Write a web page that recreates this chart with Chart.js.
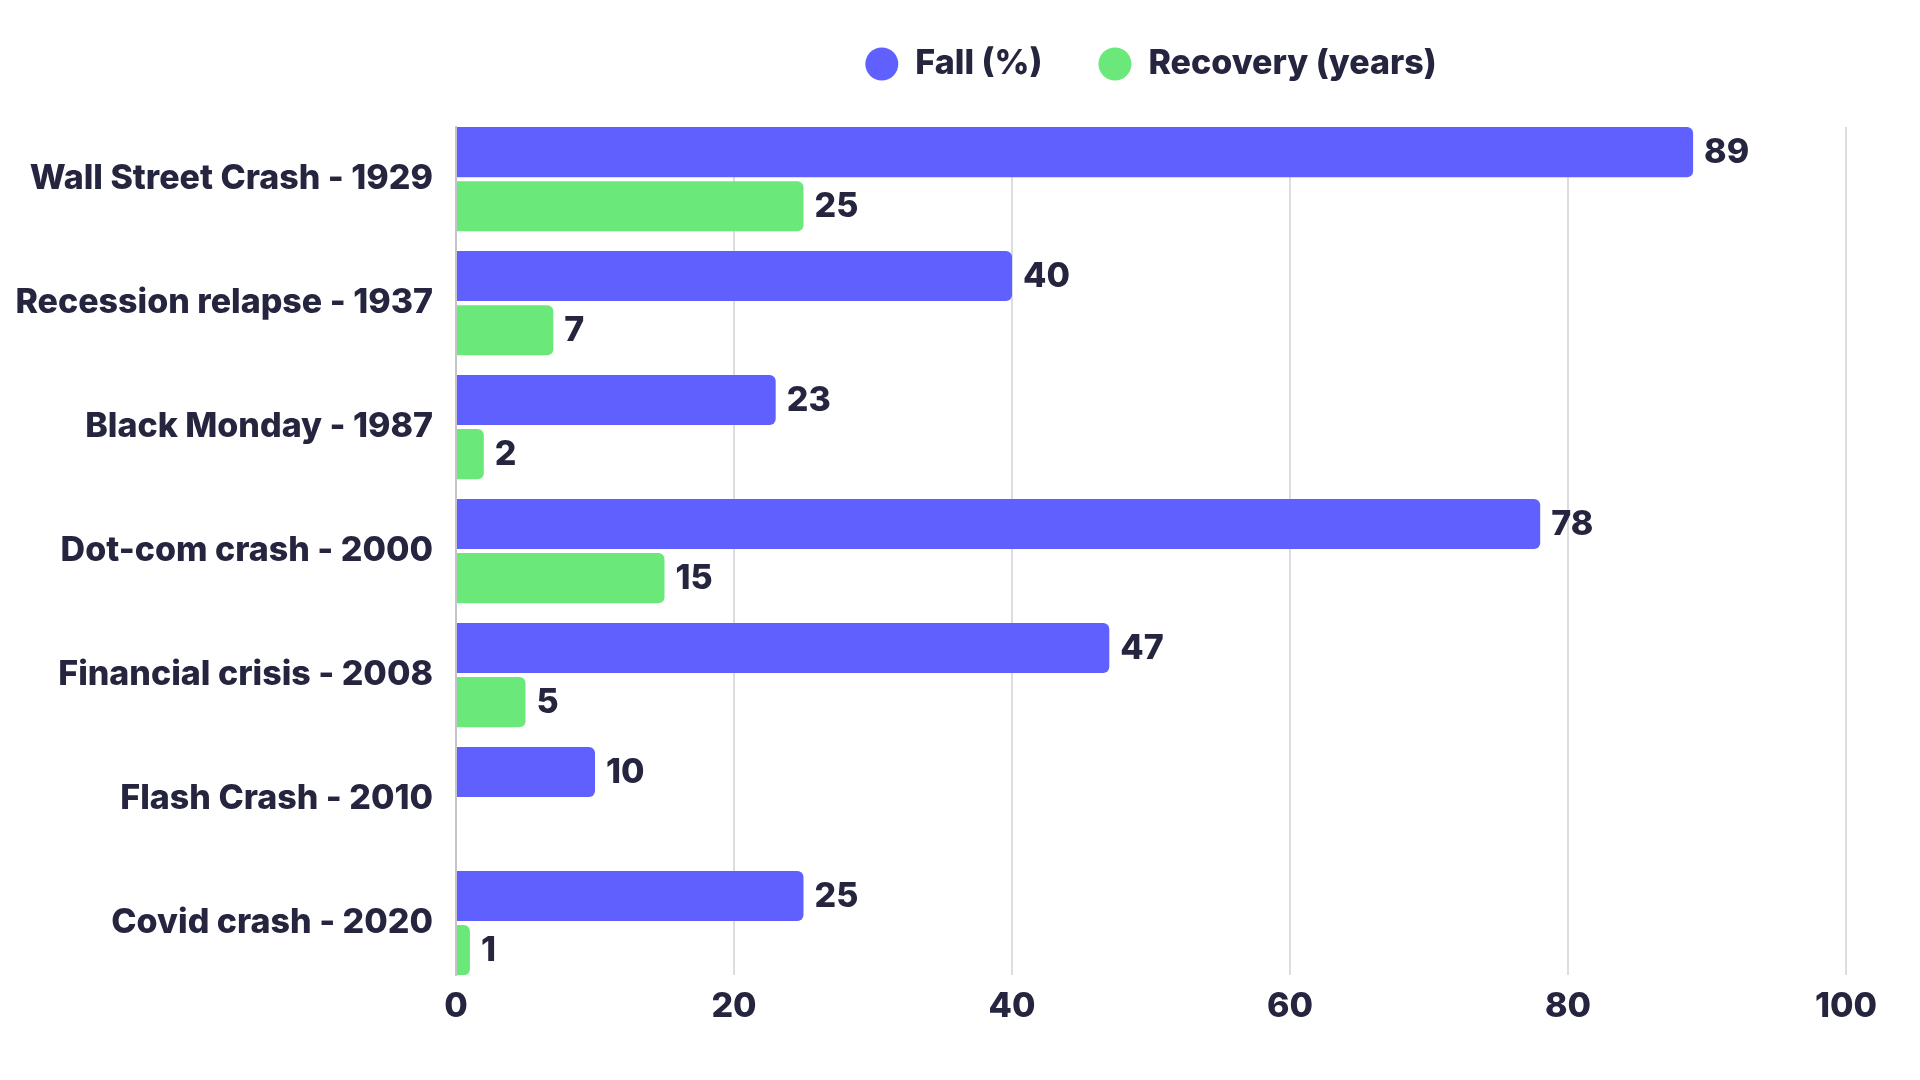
<!DOCTYPE html>
<html>
<head>
<meta charset="utf-8">
<script src="https://cdn.jsdelivr.net/npm/chart.js@4"></script>
<style>
  html, body { margin: 0; padding: 0; background: #fff; }
  #wrap { width: 1920px; height: 1080px; }
</style>
</head>
<body>
<div id="wrap"><canvas id="myChart"></canvas></div>
<script>
var categories = ["Wall Street Crash - 1929", "Recession relapse - 1937", "Black Monday - 1987",
    "Dot-com crash - 2000", "Financial crisis - 2008", "Flash Crash - 2010", "Covid crash - 2020"];
var fall = [89, 40, 23, 78, 47, 10, 25];          // Fall (%)
var recovery = [25, 7, 2, 15, 5, null, 1];        // Recovery (years)
var xTicks = [0, 20, 40, 60, 80, 100];

var textColor = "#25253f";
var fontFamily = "Inter, 'Noto Sans', sans-serif";
var fontSize = 34;
var fontWeight = "800";

// value labels at the end of each bar
var valueLabels = {
    id: "valueLabels",
    afterDatasetsDraw: function(chart) {
        var ctx = chart.ctx;
        ctx.save();
        ctx.font = fontWeight + " " + fontSize + "px " + fontFamily;
        ctx.fillStyle = textColor;
        ctx.textAlign = "left";
        ctx.textBaseline = "middle";
        chart.data.datasets.forEach(function(ds, i) {
            chart.getDatasetMeta(i).data.forEach(function(bar, j) {
                var v = ds.data[j].x;
                if (v === null || v === undefined) return;
                ctx.fillText(v, bar.x + 11, bar.y + 1);
            });
        });
        ctx.restore();
    }
};

// extra room between legend and plot
var legendGap = {
    id: "legendGap",
    afterInit: function(chart) {
        var fit = chart.legend.fit;
        chart.legend.fit = function() {
            fit.call(this);
            this.height = 136;
        };
    }
};

var ctx = document.getElementById("myChart");

var data = {
    datasets: [
        {
            label: "Fall (%)",
            data: fall.map(function(v, i) { return { x: v, y: i }; }),
            backgroundColor: "#6060ff",
            borderRadius: 6,
            categoryPercentage: 0.873,
            barPercentage: 0.926
        },
        {
            label: "Recovery (years)",
            data: recovery.map(function(v, i) { return { x: v, y: i }; }),
            backgroundColor: "#6ae87a",
            borderRadius: 6,
            categoryPercentage: 0.873,
            barPercentage: 0.926
        }
    ]
};

var options = {
    indexAxis: "y",
    responsive: true,
    maintainAspectRatio: false,
    animation: false,
    layout: {
        padding: { top: -9, right: 74, bottom: 42, left: 0 }
    },
    scales: {
        x: {
            type: "linear",
            min: 0,
            max: 100,
            afterBuildTicks: function(scale) {
                scale.ticks = xTicks.map(function(v) { return { value: v }; });
            },
            grid: { color: "#dcdce2", lineWidth: 2, drawTicks: false },
            border: { display: false },
            ticks: {
                padding: 11,
                color: textColor,
                font: { family: fontFamily, size: fontSize, weight: fontWeight }
            }
        },
        y: {
            type: "linear",
            reverse: true,
            offset: false,
            bounds: "data",
            min: -0.4205,
            max: 6.4205,
            afterBuildTicks: function(scale) {
                scale.ticks = categories.map(function(c, i) { return { value: i }; });
            },
            afterFit: function(scale) { scale.width = 456; },
            grid: { display: false, drawTicks: false, offset: false },
            border: { display: true, color: "#c4c4ca", width: 2 },
            ticks: {
                autoSkip: false,
                padding: 23,
                color: textColor,
                font: { family: fontFamily, size: fontSize, weight: fontWeight },
                callback: function(value) {
                    return categories[value] !== undefined ? categories[value] : "";
                }
            }
        }
    },
    plugins: {
        legend: {
            display: true,
            position: "top",
            fullSize: false,
            labels: {
                usePointStyle: true,
                pointStyle: "circle",
                boxHeight: 23.3,
                pointStyleWidth: 33,
                padding: 56,
                color: textColor,
                font: { family: fontFamily, size: fontSize, weight: fontWeight }
            }
        },
        tooltip: { enabled: false }
    }
};

var barChart = new Chart(ctx, {
    type: "bar",
    data: data,
    options: options,
    plugins: [valueLabels, legendGap]
});
</script>
</body>
</html>
